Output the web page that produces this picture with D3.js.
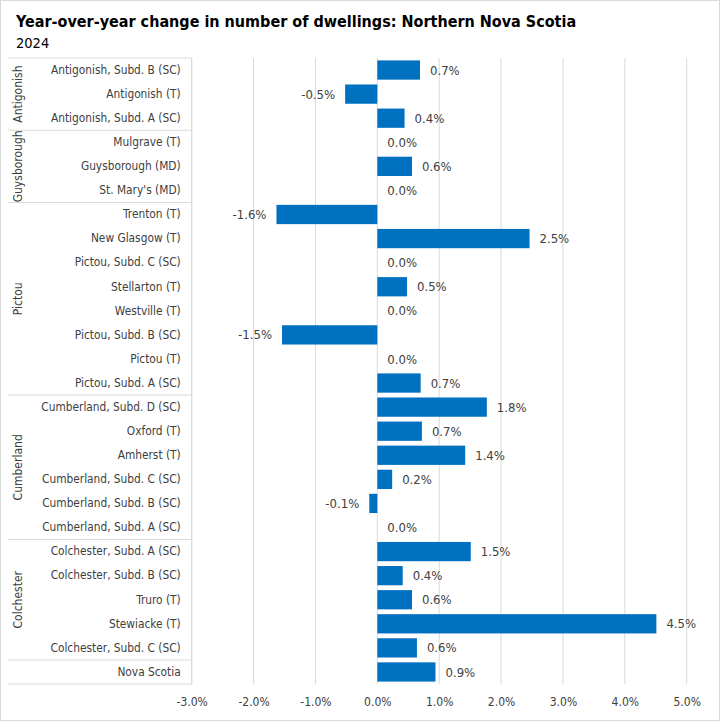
<!DOCTYPE html>
<html>
<head>
<meta charset="utf-8">
<script src="https://cdn.jsdelivr.net/npm/d3@7"></script>
<style>
  body { margin: 0; background: #fff; }
  text { font-family: "DejaVu Sans Condensed", "Liberation Sans", sans-serif; }
</style>
</head>
<body>
<script>
// rows top to bottom
var places = [
    "Antigonish, Subd. B (SC)", "Antigonish (T)", "Antigonish, Subd. A (SC)",
    "Mulgrave (T)", "Guysborough (MD)", "St. Mary's (MD)",
    "Trenton (T)", "New Glasgow (T)", "Pictou, Subd. C (SC)", "Stellarton (T)",
    "Westville (T)", "Pictou, Subd. B (SC)", "Pictou (T)", "Pictou, Subd. A (SC)",
    "Cumberland, Subd. D (SC)", "Oxford (T)", "Amherst (T)", "Cumberland, Subd. C (SC)",
    "Cumberland, Subd. B (SC)", "Cumberland, Subd. A (SC)",
    "Colchester, Subd. A (SC)", "Colchester, Subd. B (SC)", "Truro (T)",
    "Stewiacke (T)", "Colchester, Subd. C (SC)",
    "Nova Scotia"
];
var counties = [
    "Antigonish", "Antigonish", "Antigonish",
    "Guysborough", "Guysborough", "Guysborough",
    "Pictou", "Pictou", "Pictou", "Pictou", "Pictou", "Pictou", "Pictou", "Pictou",
    "Cumberland", "Cumberland", "Cumberland", "Cumberland", "Cumberland", "Cumberland",
    "Colchester", "Colchester", "Colchester", "Colchester", "Colchester",
    ""
];
var change = [
    0.69, -0.52, 0.44,
    0.0, 0.56, 0.0,
    -1.63, 2.46, 0.0, 0.48, 0.0, -1.54, 0.0, 0.70,
    1.77, 0.72, 1.42, 0.24, -0.13, 0.0,
    1.51, 0.41, 0.56, 4.51, 0.64,
    0.94
];
var ticks = [-3, -2, -1, 0, 1, 2, 3, 4, 5];

var width = 720, height = 721;
var pLeft = 191.7, pRight = 686.7, pTop = 58, pBottom = 684;
var boxLeft = 8;

var pct = function (d) { return d.toFixed(1) + '%'; };

var svg = d3.select('body').append('svg')
        .attr('width', width)
        .attr('height', height);

svg.append('rect')
    .attr('x', 0.5).attr('y', 0.5)
    .attr('width', width - 1).attr('height', height - 1)
    .attr('fill', '#fff').attr('stroke', '#d9d9d9');

svg.append('text')
    .attr('x', 16).attr('y', 27)
    .attr('font-size', 16).attr('font-weight', 'bold')
    .attr('fill', '#000')
    .text('Year-over-year change in number of dwellings: Northern Nova Scotia');

svg.append('text')
    .attr('x', 16).attr('y', 48)
    .attr('font-size', 14.5)
    .attr('fill', '#000')
    .text('2024');

var x = d3.scaleLinear().domain([-3, 5]).range([pLeft, pRight]);
var y = d3.scaleBand().domain(places).range([pTop, pBottom]).paddingInner(0.2).paddingOuter(0.1);

// gridlines
svg.append('g').selectAll('line')
    .data(ticks)
    .enter().append('line')
        .attr('x1', function (d) { return x(d); })
        .attr('x2', function (d) { return x(d); })
        .attr('y1', pTop)
        .attr('y2', pBottom)
        .attr('stroke', '#d9d9d9')
        .attr('stroke-width', 1);

// x axis labels
var xAxis = d3.axisBottom(x)
        .tickValues(ticks)
        .tickSize(0)
        .tickPadding(0)
        .tickFormat(pct);

var gx = svg.append('g')
        .attr('transform', 'translate(0,' + 697 + ')')
        .call(xAxis);
gx.select('.domain').remove();
gx.selectAll('text')
    .attr('font-size', 12)
    .attr('fill', '#404040')
    .attr('font-family', '"DejaVu Sans Condensed", sans-serif');

// category axis (two levels)
var yAxis = d3.axisLeft(y).tickSize(0).tickPadding(11);
var gy = svg.append('g')
        .attr('transform', 'translate(' + pLeft + ',0)')
        .call(yAxis);
gy.select('.domain').remove();
gy.selectAll('text')
    .attr('font-size', 11.8)
    .attr('fill', '#404040')
    .attr('font-family', '"DejaVu Sans Condensed", sans-serif');

svg.append('line')
    .attr('x1', pLeft).attr('x2', pLeft)
    .attr('y1', pTop).attr('y2', pBottom)
    .attr('stroke', '#d9d9d9');

var rowTop = function (i) { return pTop + (pBottom - pTop) * i / places.length; };

var groups = [];
counties.forEach(function (c, i) {
    var g = groups[groups.length - 1];
    if (!g || g.name !== c) groups.push({ name: c, start: i, end: i + 1 });
    else g.end = i + 1;
});

var bounds = [0].concat(groups.map(function (g) { return g.end; }));
svg.append('g').selectAll('line')
    .data(bounds)
    .enter().append('line')
        .attr('x1', boxLeft)
        .attr('x2', pLeft)
        .attr('y1', function (d) { return rowTop(d); })
        .attr('y2', function (d) { return rowTop(d); })
        .attr('stroke', '#d9d9d9');

svg.append('g').selectAll('text')
    .data(groups)
    .enter().append('text')
        .attr('transform', function (d) {
            var cy = (rowTop(d.start) + rowTop(d.end)) / 2;
            return 'translate(22,' + cy + ') rotate(-90)';
        })
        .attr('text-anchor', 'middle')
        .attr('font-size', 12)
        .attr('fill', '#404040')
        .text(function (d) { return d.name; });

// bars
svg.append('g').selectAll('rect')
    .data(change)
    .enter().append('rect')
        .attr('x', function (d) { return x(Math.min(0, d)); })
        .attr('y', function (d, i) { return y(places[i]); })
        .attr('width', function (d) { return Math.abs(x(d) - x(0)); })
        .attr('height', y.bandwidth())
        .attr('fill', '#0070C0');

// value labels
svg.append('g').selectAll('text')
    .data(change)
    .enter().append('text')
        .attr('x', function (d) { return d < 0 ? x(d) - 10 : x(d) + 10; })
        .attr('y', function (d, i) { return y(places[i]) + y.bandwidth() / 2; })
        .attr('dy', '0.35em')
        .attr('text-anchor', function (d) { return d < 0 ? 'end' : 'start'; })
        .attr('font-size', 13)
        .attr('fill', '#404040')
        .text(pct);
</script>
</body>
</html>
